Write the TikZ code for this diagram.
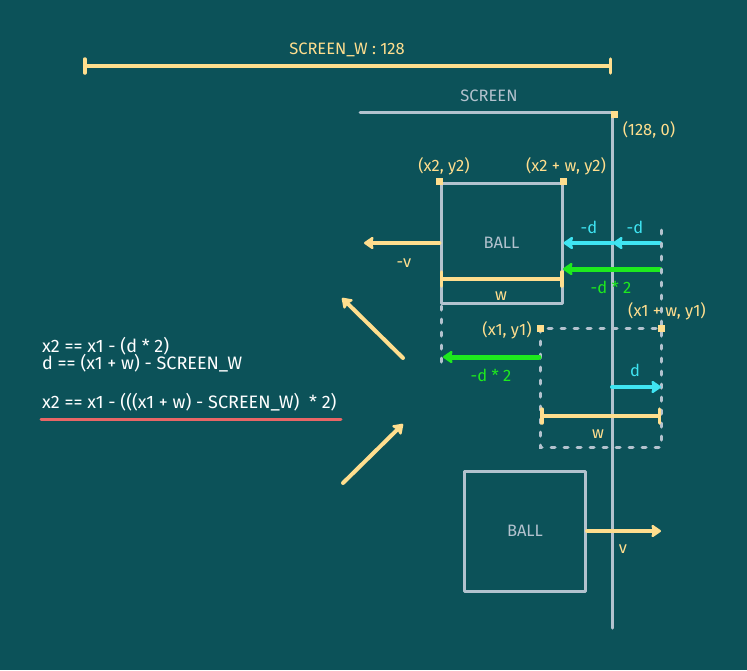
\documentclass[tikz,border=0pt]{standalone}
\usepackage{fontspec}
\setmainfont{Fira Sans}
\usepackage{xcolor}
\definecolor{cBg}{HTML}{0C5259}
\definecolor{cLine}{HTML}{B3C2CE}
\definecolor{cYellow}{HTML}{FFDE8E}
\definecolor{cCyan}{HTML}{3FE4F2}
\definecolor{cGreen}{HTML}{1EEA1E}
\definecolor{cRed}{HTML}{E86666}
\usepackage{tikz}
\usetikzlibrary{arrows.meta,calc}
\newcommand{\lblfont}{\fontsize{16.5}{19}\selectfont}
\newcommand{\eqfont}{\fontsize{18}{20}\selectfont}
\tikzset{
  node-ball/.style={draw=cLine,line width=3pt,line join=round,
    minimum width=121pt,minimum height=120pt,inner sep=0pt,
    text=cLine,font=\lblfont},
  ghost-line/.style={draw=cLine,line width=3pt,line cap=round,
    dash pattern=on 4pt off 9pt},
  screen-line/.style={draw=cLine,line width=3pt,line cap=round,line join=round},
  corner-dot/.style={fill=cYellow,minimum size=7pt,inner sep=0pt},
  txt-yellow/.style={text=cYellow,font=\lblfont,inner sep=0pt},
  txt-cyan/.style={text=cCyan,font=\lblfont,inner sep=0pt},
  txt-green/.style={text=cGreen,font=\lblfont,inner sep=0pt},
  txt-eq/.style={text=white,font=\eqfont,inner sep=0pt,anchor=west},
  arrow-move/.style={-{Stealth[length=11pt,width=15pt,inset=2pt,round]},
    line width=4pt,draw=cYellow,line cap=round},
  arrow-d/.style={arrow-move,draw=cCyan},
  arrow-2d/.style={arrow-move,draw=cGreen,line width=5pt},
  dim-line/.style={{Bar[width=14pt,round]}-{Bar[width=14pt,round]},
    line width=3.5pt,draw=cYellow},
}

\begin{document}
\begin{tikzpicture}[x=1pt,y=-1pt]
  \useasboundingbox[fill=cBg] (0,0) rectangle (747,670);

  % screen width
  \coordinate (sw-l) at (83,66);
  \coordinate (sw-r) at (612,66);
  \draw[dim-line] (sw-l) -- (sw-r);
  \node[txt-yellow] (sw-lbl) at (347,50) {SCREEN\_W : 128};

  % screen edge
  \coordinate (scr-l) at (360,112);
  \coordinate (scr-c) at (612,112);
  \coordinate (scr-b) at (612,628);
  \draw[screen-line] (scr-l) -- (scr-c) -- (scr-b);
  \node[text=cLine,font=\lblfont,inner sep=0pt] (scr-lbl) at (489,96) {SCREEN};
  \node[corner-dot] (scr-dot) at (614,114) {};
  \node[txt-yellow] (scr-pos) at (649,130) {(128, 0)};

  % ball after bounce
  \node[node-ball] (ball2) at (501.5,243) {BALL};
  \node[corner-dot] at (ball2.north west) {};
  \node[corner-dot] at (ball2.north east) {};
  \node[txt-yellow] (p2) at (444,166) {(x2, y2)};
  \node[txt-yellow] (p2w) at (566,166) {(x2 + w, y2)};
  \coordinate (v2-end) at (364,243);
  \draw[arrow-move] (ball2.west) -- (v2-end);
  \node[txt-yellow] at (404,263) {-v};
  \draw[dim-line] ($(ball2.west)+(0,36)$) coordinate (w2-l) -- ($(ball2.east)+(0,36)$) coordinate (w2-r);
  \node[txt-yellow] at (501,296) {w};

  % reflection arrows
  \coordinate (d-start) at (660,243);
  \coordinate (d-mid) at (613,243);
  \draw[arrow-d] (d-start) -- (d-mid);
  \draw[arrow-d] (d-mid) -- (ball2.east);
  \node[txt-cyan] at (589,227) {-d};
  \node[txt-cyan] at (635,227) {-d};
  \coordinate (dd-start) at (660,269);
  \coordinate (dd-end) at (563,269);
  \draw[arrow-2d] (dd-start) -- (dd-end);
  \node[txt-green] at (611,287) {-d * 2};

  % ball past the edge
  \coordinate (g-nw) at (540,328);
  \coordinate (g-se) at (661,447);
  \draw[ghost-line] (g-nw) rectangle (g-se);
  \draw[ghost-line] (661,230) -- (661,328);
  \draw[ghost-line] (441,306) -- (441,370);
  \node[corner-dot] at (g-nw) {};
  \node[corner-dot] at (661,328) {};
  \node[txt-yellow] (p1) at (507,330) {(x1, y1)};
  \node[txt-yellow] (p1w) at (667,311) {(x1 + w, y1)};
  \coordinate (g-dd-s) at (539,357);
  \coordinate (g-dd-e) at (443,357);
  \draw[arrow-2d] (g-dd-s) -- (g-dd-e);
  \node[txt-green] at (491,375) {-d * 2};
  \coordinate (g-d-s) at (612,387);
  \coordinate (g-d-e) at (661,387);
  \draw[arrow-d] (g-d-s) -- (g-d-e);
  \node[txt-cyan] at (635,370) {d};
  \coordinate (w1-l) at (540,416);
  \coordinate (w1-r) at (661,416);
  \draw[dim-line] (w1-l) -- (w1-r);
  \node[txt-yellow] at (598,434) {w};

  % motion
  \coordinate (up-s) at (403,358);
  \coordinate (up-e) at (342,298);
  \coordinate (dn-s) at (343,483);
  \coordinate (dn-e) at (403,424);
  \draw[arrow-move] (up-s) -- (up-e);
  \draw[arrow-move] (dn-s) -- (dn-e);

  % ball before bounce
  \node[node-ball] (ball1) at (525,531) {BALL};
  \coordinate (v1-end) at (661,531);
  \draw[arrow-move] (ball1.east) -- (v1-end);
  \node[txt-yellow] at (623,549) {v};

  % formula
  \node[txt-eq] (eq1) at (42,346) {x2 == x1 - (d * 2)};
  \node[txt-eq] (eq2) at (42,363) {d == (x1 + w) - SCREEN\_W};
  \node[txt-eq] (eq3) at (42,402) {x2 == x1 - (((x1 + w) - SCREEN\_W)\ \ * 2)};
  \coordinate (ul-l) at (41,419);
  \coordinate (ul-r) at (341,419);
  \draw[draw=cRed,line width=3pt,line cap=round] (ul-l) -- (ul-r);
\end{tikzpicture}
\end{document}
